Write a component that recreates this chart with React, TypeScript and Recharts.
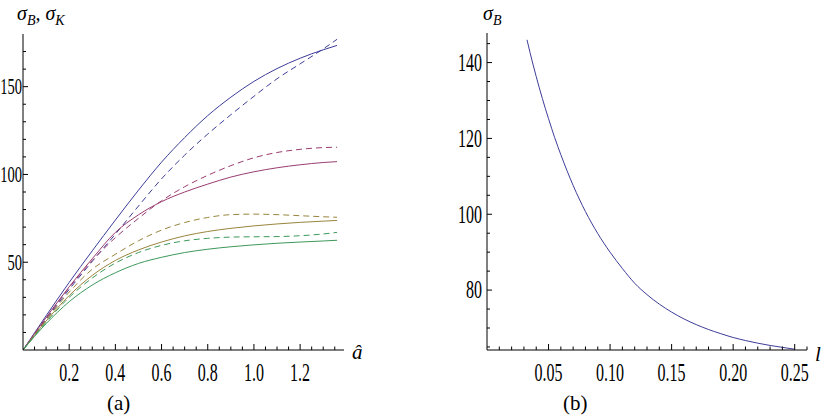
import React from "react";
import { LineChart, Line, XAxis, YAxis } from "recharts";

// (a) sigma_B / sigma_K against a-hat
const aHat = [0, 0.1, 0.2, 0.3, 0.4, 0.5, 0.6, 0.7, 0.8, 0.9, 1.0, 1.1, 1.2, 1.3, 1.36];
const blueSolid = [0, 19.5, 38.5, 56.5, 74, 91, 107, 121, 133.5, 144, 153, 160.3, 166.2, 171, 173.5];
const blueDashed = [0, 17.5, 34.5, 50.5, 66, 82, 97.5, 111, 123, 134, 144.5, 154.5, 163, 171.5, 177];
const maroonSolid = [0, 18.5, 36, 52, 67, 77, 84.5, 90, 94.5, 98.5, 101.5, 103.8, 105.5, 106.8, 107.3];
const maroonDashed = [0, 18, 35.5, 51, 64, 75, 85, 93, 99.5, 105, 109.5, 112.5, 114.3, 115.3, 115.5];
const oliveSolid = [0, 16.5, 31, 42.5, 51, 57, 61.5, 65, 67.5, 69.3, 70.7, 71.8, 72.7, 73.4, 73.8];
const oliveDashed = [0, 17, 33, 46, 54.5, 62.2, 68.3, 72.6, 75.5, 77.1, 77.4, 77.1, 76.5, 75.9, 75.6];
const greenSolid = [0, 15, 27.5, 37, 44, 49.3, 52.8, 55.5, 57.4, 58.8, 59.9, 60.8, 61.5, 62.1, 62.5];
const greenDashed = [0, 15.8, 30, 41, 49.5, 55.5, 59.6, 62.2, 63.6, 64.3, 64.5, 64.6, 65.1, 66.1, 67];

const leftXTicks = [0.05, 0.1, 0.15, 0.2, 0.25, 0.3, 0.35, 0.4, 0.45, 0.5, 0.55, 0.6, 0.65, 0.7, 0.75, 0.8, 0.85, 0.9, 0.95, 1.0, 1.05, 1.1, 1.15, 1.2, 1.25, 1.3, 1.35];
const leftXMajor = [0.2, 0.4, 0.6, 0.8, 1.0, 1.2];
const leftYTicks = [10, 20, 30, 40, 50, 60, 70, 80, 90, 100, 110, 120, 130, 140, 150, 160, 170];
const leftYMajor = [50, 100, 150];

// (b) sigma_B against l
const lValues = [0.0325, 0.035, 0.04, 0.045, 0.05, 0.055, 0.06, 0.07, 0.08, 0.09, 0.1, 0.11, 0.12, 0.13, 0.14, 0.15, 0.16, 0.17, 0.18, 0.19, 0.2, 0.21, 0.22, 0.23, 0.24, 0.25];
const sigmaB = [146, 142.6, 136.3, 130.5, 125.2, 120.2, 115.7, 107.6, 100.7, 94.9, 90, 85.7, 81.8, 78.8, 76.3, 74.2, 72.4, 70.9, 69.6, 68.5, 67.5, 66.7, 66, 65.4, 64.9, 64.4];

const rightXTicks = [0.01, 0.02, 0.03, 0.04, 0.05, 0.06, 0.07, 0.08, 0.09, 0.1, 0.11, 0.12, 0.13, 0.14, 0.15, 0.16, 0.17, 0.18, 0.19, 0.2, 0.21, 0.22, 0.23, 0.24, 0.25, 0.26];
const rightXMajor = [0.05, 0.1, 0.15, 0.2, 0.25];
const rightYTicks = [65, 70, 75, 80, 85, 90, 95, 100, 105, 110, 115, 120, 125, 130, 135, 140, 145];
const rightYMajor = [80, 100, 120, 140];

const BLUE = "#3d3d99";
const MAROON = "#993d71";
const OLIVE = "#99853d";
const GREEN = "#3d995b";
const FONT = '"Liberation Serif", "Times New Roman", Times, serif';

const leftData = aHat.map((a, i) => ({
  a,
  b1: blueSolid[i],
  b2: blueDashed[i],
  m1: maroonSolid[i],
  m2: maroonDashed[i],
  o1: oliveSolid[i],
  o2: oliveDashed[i],
  g1: greenSolid[i],
  g2: greenDashed[i],
}));
const rightData = lValues.map((l, i) => ({ l, s: sigmaB[i] }));

const isIn = (list: number[], v: number) => list.some((m) => Math.abs(m - v) < 1e-9);
const stretch = (x: number, y: number) => `translate(${x} ${y}) scale(1 1.6) translate(${-x} ${-y})`;

function makeXTick(major: number[], digits: number) {
  return (props: any) => {
    const { x, y, payload } = props;
    const v = payload.value;
    const big = isIn(major, v);
    const ty = y + 23;
    return (
      <g>
        <line x1={x} x2={x} y1={y} y2={y - (big ? 6 : 3.5)} stroke="#000" strokeWidth={1} />
        {big && (
          <text x={x} y={ty} textAnchor="middle" dominantBaseline="central" fontSize={16} fontFamily={FONT} fill="#000" transform={stretch(x, ty)}>
            {v.toFixed(digits)}
          </text>
        )}
      </g>
    );
  };
}

function makeYTick(major: number[], gap: number, size: number) {
  return (props: any) => {
    const { x, y, payload } = props;
    const v = payload.value;
    const big = isIn(major, v);
    const tx = x - gap;
    return (
      <g>
        <line x1={x} x2={x + (big ? 5 : 3)} y1={y} y2={y} stroke="#000" strokeWidth={1} />
        {big && (
          <text x={tx} y={y} textAnchor="end" dominantBaseline="central" fontSize={size} fontFamily={FONT} fill="#000" transform={stretch(tx, y)}>
            {String(v)}
          </text>
        )}
      </g>
    );
  };
}

const label = (left: number, top: number, size: number): React.CSSProperties => ({
  position: "absolute",
  left,
  top,
  fontSize: size,
  fontFamily: FONT,
  fontStyle: "italic",
  lineHeight: 1,
  whiteSpace: "nowrap",
  color: "#000",
});
const sub: React.CSSProperties = { fontSize: 14, position: "relative", top: 5 };

export default function App() {
  return (
    <div style={{ position: "absolute", left: 0, top: 0, width: 826, height: 420, background: "#fff", overflow: "hidden", fontFamily: FONT }}>
      <LineChart width={360} height={420} data={leftData} margin={{ top: 34, right: 16, bottom: 40, left: -7 }} style={{ position: "absolute", left: 0, top: 0 }}>
        <XAxis dataKey="a" type="number" domain={[0, 1.39]} allowDataOverflow ticks={leftXTicks} interval={0} height={30} tickSize={0} tickMargin={0} tickLine={false} axisLine={{ stroke: "#000" }} tick={makeXTick(leftXMajor, 1)} />
        <YAxis type="number" domain={[0, 180]} allowDataOverflow ticks={leftYTicks} interval={0} width={30} tickSize={0} tickMargin={0} tickLine={false} axisLine={{ stroke: "#000" }} tick={makeYTick(leftYMajor, 1, 14.5)} />
        <Line type="monotone" dataKey="b1" stroke={BLUE} strokeWidth={1} dot={false} isAnimationActive={false} />
        <Line type="monotone" dataKey="b2" stroke={BLUE} strokeWidth={1} strokeDasharray="6 4" dot={false} isAnimationActive={false} />
        <Line type="monotone" dataKey="m1" stroke={MAROON} strokeWidth={1} dot={false} isAnimationActive={false} />
        <Line type="monotone" dataKey="m2" stroke={MAROON} strokeWidth={1} strokeDasharray="6 4" dot={false} isAnimationActive={false} />
        <Line type="monotone" dataKey="o1" stroke={OLIVE} strokeWidth={1} dot={false} isAnimationActive={false} />
        <Line type="monotone" dataKey="o2" stroke={OLIVE} strokeWidth={1} strokeDasharray="6 4" dot={false} isAnimationActive={false} />
        <Line type="monotone" dataKey="g1" stroke={GREEN} strokeWidth={1} dot={false} isAnimationActive={false} />
        <Line type="monotone" dataKey="g2" stroke={GREEN} strokeWidth={1} strokeDasharray="6 4" dot={false} isAnimationActive={false} />
      </LineChart>

      <LineChart width={386} height={420} data={rightData} margin={{ top: 33, right: 19, bottom: 40, left: 17 }} style={{ position: "absolute", left: 440, top: 0 }}>
        <XAxis dataKey="l" type="number" domain={[0, 0.26]} allowDataOverflow ticks={rightXTicks} interval={0} height={30} tickSize={0} tickMargin={0} tickLine={false} axisLine={{ stroke: "#000" }} tick={makeXTick(rightXMajor, 2)} />
        <YAxis type="number" domain={[64.2, 147.8]} allowDataOverflow ticks={rightYTicks} interval={0} width={30} tickSize={0} tickMargin={0} tickLine={false} axisLine={{ stroke: "#000" }} tick={makeYTick(rightYMajor, 5, 16)} />
        <Line type="monotone" dataKey="s" stroke={BLUE} strokeWidth={1} dot={false} isAnimationActive={false} />
      </LineChart>

      <div style={label(17, 3, 20)}>
        σ<span style={sub}>B</span>, σ<span style={sub}>K</span>
      </div>
      <div style={label(352, 342, 21)}>â</div>
      <div style={{ ...label(107, 393, 21), fontStyle: "normal" }}>(a)</div>

      <div style={label(483, 3, 20)}>
        σ<span style={sub}>B</span>
      </div>
      <div style={label(815, 344, 21)}>l</div>
      <div style={{ ...label(563, 393, 21), fontStyle: "normal" }}>(b)</div>
    </div>
  );
}
